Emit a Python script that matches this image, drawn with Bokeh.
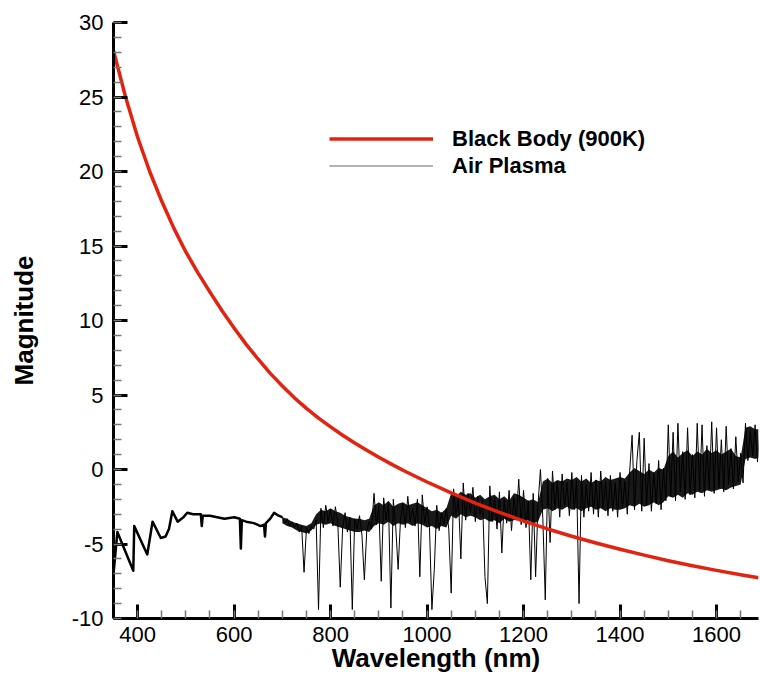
import numpy as np
from bokeh.plotting import figure
from bokeh.models import (Range1d, SingleIntervalTicker, Legend, LegendItem,
                          CustomJSTickFormatter)
from bokeh.embed import file_html
from bokeh.resources import INLINE

# Black body (900K) curve
bb_wl = [350, 375, 400, 425, 450, 475, 500, 525, 550, 575, 600, 625, 650, 675, 700,
         725, 750, 775, 800, 825, 850, 875, 900, 925, 950, 1000, 1050, 1100, 1150,
         1200, 1250, 1300, 1350, 1400, 1450, 1500, 1550, 1600, 1650, 1687]
bb_mag = [28.1, 25.0, 22.3, 20.0, 18.0, 16.2, 14.6, 13.2, 11.9, 10.65, 9.5, 8.4, 7.4,
          6.45, 5.6, 4.81, 4.1, 3.45, 2.86, 2.3, 1.78, 1.29, 0.82, 0.38, -0.05, -0.84,
          -1.57, -2.25, -2.88, -3.46, -3.99, -4.48, -4.93, -5.35, -5.75, -6.12, -6.46,
          -6.77, -7.06, -7.26]

# Air plasma, smooth visible part
plasma_smooth_wl = [350, 358, 391, 393, 420, 431, 448, 458, 465, 472, 483, 495, 503,
                    515, 531, 533, 535, 550, 565, 580, 600, 612, 614, 616, 625, 641,
                    655, 662, 664, 666, 675, 683, 692, 700]
plasma_smooth_mag = [-7.0, -4.2, -6.8, -3.8, -5.7, -3.5, -4.6, -4.5, -4.0, -2.8, -3.5,
                     -3.2, -2.9, -3.0, -3.0, -3.8, -3.1, -3.1, -3.2, -3.3, -3.2, -3.3,
                     -5.3, -3.4, -3.5, -3.6, -3.8, -3.7, -4.5, -3.6, -3.3, -2.9, -3.1,
                     -3.2]

# Air plasma, noisy near-infrared part (5 nm steps): spikes and dips
plasma_wl = list(range(700, 1695, 5))
plasma_mag = [
    -3.2, -3.6, -3.3, -3.8, -3.5, -3.9, -3.6, -4.2, -3.8, -6.9,
    -3.9, -4.3, -3.8, -4.0, -3.4, -9.4, -2.6, -3.9, -2.4, -3.5,
    -2.7, -3.8, -2.5, -3.6, -7.9, -3.9, -2.9, -4.2, -3.2, -9.4,
    -3.3, -4.0, -3.1, -4.4, -7.4, -4.1, -3.5, -4.0, -1.6, -3.7,
    -2.4, -7.5, -1.9, -3.4, -2.3, -9.3, -2.0, -3.8, -6.7, -3.3,
    -2.3, -3.9, -1.8, -3.5, -2.6, -3.8, -2.0, -7.2, -1.7, -3.6,
    -2.5, -3.9, -9.4, -6.7, -2.4, -4.1, -2.9, -3.7, -2.6, -4.0,
    -8.3, -1.3, -3.1, -1.9, -6.0, -0.9, -3.4, -1.6, -2.9, -1.2,
    -3.5, -1.8, -3.0, -2.1, -7.2, -9.0, -1.1, -3.5, -1.9, -4.0,
    -1.5, -5.6, -2.0, -3.6, -1.4, -4.1, -1.9, -3.4, -0.65, -3.7,
    -1.4, -3.9, -2.1, -7.4, -1.6, -7.2, -2.3, 0.0, -3.3, -8.75,
    -0.6, -4.9, -0.1, -2.7, -0.8, -3.2, -0.3, -2.5, -0.9, -3.1,
    -0.2, -2.7, -0.7, -9.0, -0.4, -3.2, -1.0, -2.8, -0.2, -3.0,
    -0.7, -3.2, -0.1, -2.6, -0.8, -3.1, -0.4, -2.8, -0.9, -3.2,
    -0.2, -2.6, -0.8, -3.0, -0.1, 2.3, -2.7, 0.6, 2.5, -2.8,
    2.1, -2.4, 0.4, -2.8, -0.2, -2.3, 0.6, -2.7, 0.1, -2.1,
    3.0, -1.8, 2.5, -2.1, 3.1, -1.5, 1.2, -2.0, 2.8, -1.7,
    1.0, -1.9, 3.1, -1.4, 3.0, -1.8, 1.6, -1.3, 3.2, -1.6,
    2.8, -1.2, 2.0, -1.5, 2.9, -1.0, 1.4, -1.3, 2.2, -0.8,
    1.1, -0.9, 3.1, 0.6, 2.6, 0.9, 3.0, 0.5, 2.8,
]

# Air plasma, dense core of the noisy band (upper / lower edge, 10 nm steps)
band_wl = list(range(700, 1690, 10)) + [1687]
band_hi = [
    -3.2, -3.3, -3.5, -3.6, -3.7, -3.8, -3.6, -3.0, -2.7, -2.8,
    -2.6, -2.8, -2.9, -3.1, -3.2, -3.3, -3.3, -3.4, -3.3, -2.4,
    -2.2, -2.4, -2.1, -2.5, -2.3, -2.2, -2.4, -2.3, -2.2, -2.4,
    -2.6, -2.8, -2.7, -2.9, -2.6, -1.6, -1.8, -1.5, -1.7, -1.6,
    -1.9, -1.7, -2.0, -1.8, -1.7, -2.0, -1.8, -2.1, -1.6, -1.7,
    -1.9, -2.1, -2.0, -2.2, -0.8, -0.6, -0.9, -0.7, -0.8, -0.6,
    -0.7, -0.5, -0.8, -0.6, -0.9, -0.7, -0.8, -0.5, -0.7, -0.6,
    -0.5, -0.6, -0.2, 0.1, -0.1, -0.3, 0.0, -0.2, 0.1, 0.0,
    0.9, 1.2, 0.8, 1.1, 1.3, 0.9, 1.2, 1.0, 1.4, 1.1,
    1.3, 1.0, 1.2, 1.4, 0.9, 0.8, 2.8, 2.9, 2.7,
    2.7,
]
band_lo = [
    -3.6, -3.8, -3.9, -4.1, -4.2, -4.3, -4.1, -3.7, -3.6, -3.7,
    -3.6, -3.8, -3.9, -4.0, -4.1, -4.2, -4.2, -4.1, -4.2, -3.8,
    -3.6, -3.7, -3.5, -3.8, -3.6, -3.7, -3.6, -3.8, -3.6, -3.7,
    -3.9, -3.8, -4.0, -3.8, -3.9, -3.1, -3.3, -3.0, -3.2, -3.1,
    -3.2, -3.4, -3.3, -3.5, -3.4, -3.6, -3.3, -3.5, -3.4, -3.3,
    -3.5, -3.4, -3.6, -3.5, -2.7, -2.6, -2.8, -2.6, -2.7, -2.5,
    -2.7, -2.6, -2.8, -2.6, -2.5, -2.7, -2.6, -2.8, -2.6, -2.7,
    -2.7, -2.6, -2.4, -2.5, -2.3, -2.5, -2.4, -2.2, -2.4, -2.2,
    -1.8, -1.9, -1.7, -1.9, -1.6, -1.7, -1.5, -1.6, -1.4, -1.5,
    -1.4, -1.3, -1.4, -1.2, -1.1, -1.0, 0.7, 0.8, 0.7,
    0.8,
]

legend_labels = ["Black Body (900K)", "Air Plasma"]

FONT = "Liberation Sans"
RED = "#e3220f"

p = figure(width=760, height=675, output_backend="svg", toolbar_location=None,
           x_range=Range1d(350, 1687), y_range=Range1d(-10, 30),
           min_border_left=113, min_border_right=2, min_border_top=22,
           min_border_bottom=0)
p.outline_line_color = None
p.grid.visible = False
p.background_fill_color = "white"
p.border_fill_color = "white"

p.xaxis.ticker = SingleIntervalTicker(interval=200, num_minor_ticks=4)
p.yaxis.ticker = SingleIntervalTicker(interval=5, num_minor_ticks=5)
p.yaxis.formatter = CustomJSTickFormatter(code="return String(tick);")

for ax in (p.xaxis[0], p.yaxis[0]):
    ax.axis_line_width = 3
    ax.axis_line_color = "black"
    ax.major_tick_in = 14
    ax.major_tick_out = 0
    ax.major_tick_line_width = 3
    ax.major_tick_line_color = "black"
    ax.minor_tick_in = 8
    ax.minor_tick_out = 0
    ax.minor_tick_line_width = 1.5
    ax.minor_tick_line_color = "#777777"
    ax.major_label_text_font = FONT
    ax.major_label_text_font_size = "22px"
    ax.major_label_text_color = "black"
    ax.axis_label_text_font = FONT
    ax.axis_label_text_font_size = "26px"
    ax.axis_label_text_font_style = "bold"
    ax.axis_label_text_color = "black"

p.xaxis.axis_label = "Wavelength (nm)"
p.yaxis.axis_label = "Magnitude"
p.xaxis.major_label_standoff = 8
p.yaxis.major_label_standoff = 10
p.xaxis.axis_label_standoff = -2
p.yaxis.axis_label_standoff = 30

p.varea(x=band_wl, y1=band_lo, y2=band_hi, fill_color="black", fill_alpha=0.9)
p.line(plasma_smooth_wl, plasma_smooth_mag, line_color="black", line_width=2.5,
       line_join="round")
p.line(plasma_wl, plasma_mag, line_color="black", line_width=1)
r_bb = p.line(bb_wl, bb_mag, line_color=RED, line_width=3.5, line_join="round")
r_leg_plasma = p.line([np.nan], [np.nan], line_color="#9a9a9a", line_width=1.5)

legend = Legend(items=[LegendItem(label=legend_labels[0], renderers=[r_bb]),
                       LegendItem(label=legend_labels[1], renderers=[r_leg_plasma])],
                location=(216, 439), orientation="vertical")
legend.label_text_font = FONT
legend.label_text_font_size = "22px"
legend.label_text_font_style = "bold"
legend.label_text_color = "black"
legend.glyph_width = 104
legend.glyph_height = 27
legend.label_height = 27
legend.label_standoff = 19
legend.spacing = 0
legend.padding = 0
legend.margin = 0
legend.border_line_color = None
legend.background_fill_alpha = 0
p.add_layout(legend, "center")

open("out.html", "w").write(file_html(p, INLINE))
